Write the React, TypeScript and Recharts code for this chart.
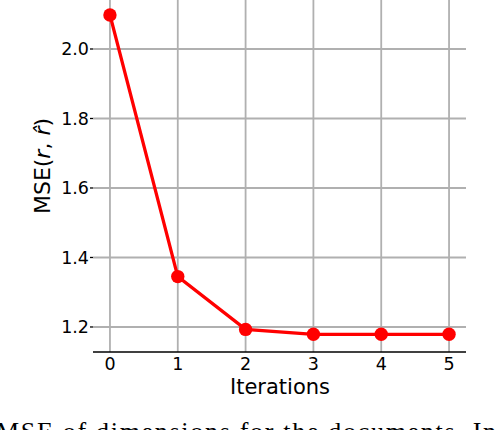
import React from "react";
import { CartesianGrid, Line, LineChart, XAxis, YAxis } from "recharts";

const iterations = [0, 1, 2, 3, 4, 5];
const mseValues = [2.098, 1.345, 1.193, 1.179, 1.179, 1.179];
const xTicks = [0, 1, 2, 3, 4, 5];
const yTicks = [1.2, 1.4, 1.6, 1.8, 2.0];
const xLabel = "Iterations";
const caption = "MSE of dimensions for the documents. In";

const data = iterations.map((it, i) => ({ it, mse: mseValues[i] }));

const FONT = "DejaVu Sans";
const RED = "#ff0000";
const GRID = "#b0b0b0";

const X_DOMAIN: [number, number] = [-0.25, 5.25];
const Y_DOMAIN: [number, number] = [1.128, 2.141];

function YLabel() {
  return (
    <text
      x={42}
      y={166}
      transform="rotate(-90, 42, 166)"
      textAnchor="middle"
      dominantBaseline="central"
      fontFamily={FONT}
      fontSize={22}
      fill="#000"
    >
      MSE(<tspan fontStyle="italic">r</tspan>, <tspan fontStyle="italic">r̂</tspan>)
    </text>
  );
}

function XLabel() {
  return (
    <text x={280} y={394} textAnchor="middle" fontFamily={FONT} fontSize={21} fill="#000">
      {xLabel}
    </text>
  );
}

export default function App() {
  return (
    <div style={{ position: "absolute", left: 0, top: 0, width: 498, height: 430, overflow: "hidden", background: "#fff" }}>
      <LineChart width={498} height={430} data={data} margin={{ top: 0, right: 32, bottom: 0, left: 0 }}>
        <CartesianGrid stroke={GRID} strokeWidth={1.8} syncWithTicks />
        <XAxis
          dataKey="it"
          type="number"
          domain={X_DOMAIN}
          ticks={xTicks}
          allowDataOverflow
          height={78}
          axisLine={{ stroke: "#000", strokeWidth: 1.3 }}
          tickLine={false}
          tickSize={4}
          tickMargin={2}
          tick={{ fontSize: 17.5, fontFamily: FONT, fill: "#000" }}
          label={{ content: () => <XLabel /> }}
        />
        <XAxis
          xAxisId="top"
          orientation="top"
          dataKey="it"
          type="number"
          domain={X_DOMAIN}
          ticks={xTicks}
          allowDataOverflow
          height={0}
          mirror
          axisLine={false}
          tickSize={3}
          tickLine={{ stroke: "#000", strokeWidth: 1.3 }}
          tickFormatter={() => ""}
        />
        <YAxis
          type="number"
          domain={Y_DOMAIN}
          ticks={yTicks}
          allowDataOverflow
          width={93}
          axisLine={false}
          tickSize={3}
          tickMargin={1}
          tickLine={{ stroke: "#000", strokeWidth: 1.3 }}
          tick={{ fontSize: 17.5, fontFamily: FONT, fill: "#000" }}
          tickFormatter={(v: number) => v.toFixed(1)}
          label={{ content: () => <YLabel /> }}
        />
        <YAxis
          yAxisId="right"
          orientation="right"
          type="number"
          domain={Y_DOMAIN}
          ticks={yTicks}
          allowDataOverflow
          width={0}
          mirror
          axisLine={{ stroke: "#000", strokeWidth: 1.3 }}
          tickSize={3}
          tickLine={{ stroke: "#000", strokeWidth: 1.3 }}
          tickFormatter={() => ""}
        />
        <Line
          dataKey="mse"
          stroke={RED}
          strokeWidth={3.3}
          dot={{ r: 6.7, fill: RED, stroke: RED, strokeWidth: 0 }}
          isAnimationActive={false}
        />
      </LineChart>
      <svg width={498} height={430} style={{ position: "absolute", left: 0, top: 0, pointerEvents: "none" }}>
        <text x={-4} y={440} fontFamily="Liberation Serif" fontSize={26} fill="#000" textLength={500} lengthAdjust="spacing">
          {caption}
        </text>
      </svg>
    </div>
  );
}
